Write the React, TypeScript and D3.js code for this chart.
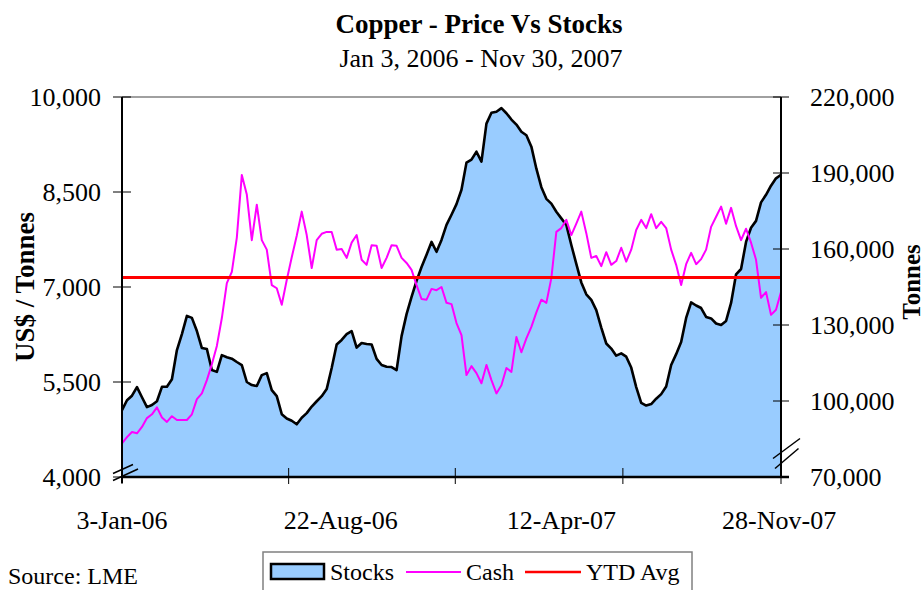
import React from "react";
import * as d3 from "d3";

const chartTitle = "Copper - Price Vs Stocks";
const chartSubtitle = "Jan 3, 2006 - Nov 30, 2007";
const startDate = "2006-01-03";
const endDate = "2007-11-30";

// Stocks (tonnes), sampled evenly from Jan 3 2006 to Nov 30 2007
const stocks = [
  96400, 100300, 102100, 105500, 101500, 97600, 98400, 99900, 105600, 105600,
  108600, 120100, 126400, 133600, 132800, 127600, 120900, 120500, 112200, 111500,
  118100, 117300, 116700, 115400, 114200, 107500, 106300, 105900, 110200, 111000,
  104300, 101900, 94800, 93100, 92200, 90800, 93400, 95200, 97800, 99900,
  101900, 104700, 113000, 122300, 124100, 126400, 127600, 121100, 122900, 122500,
  122300, 116600, 114200, 113500, 113400, 112200, 125600, 134300, 141100, 147400,
  152900, 157700, 162800, 158900, 163600, 169500, 173500, 177700, 183400, 194100,
  195300, 198400, 194500, 209500, 213800, 214200, 215600, 213600, 211100, 209100,
  206300, 204900, 200400, 191700, 184400, 179800, 177900, 174700, 172100, 169500,
  161600, 154100, 146800, 142100, 139900, 135900, 129000, 122700, 120700, 117900,
  118800, 117500, 113200, 105500, 99300, 98200, 98800, 100900, 102700, 105700,
  114200, 118500, 123300, 132800, 138900, 137700, 136700, 133200, 132600, 130600,
  130000, 131600, 138700, 150000, 152100, 162800, 168400, 171100, 178400, 181400,
  185000, 187900, 189300,
];

// Cash price (US$ / tonne), same sampling
const cash = [
  4530, 4630, 4710, 4690, 4790, 4930, 4990, 5100, 4940, 4870,
  4960, 4900, 4900, 4900, 4990, 5230, 5320, 5530, 5780, 6070,
  6510, 7060, 7240, 7780, 8770, 8460, 7740, 8300, 7740, 7590,
  7030, 6980, 6720, 7110, 7470, 7810, 8190, 7820, 7300, 7740,
  7840, 7870, 7870, 7590, 7600, 7460, 7700, 7820, 7430, 7350,
  7660, 7650, 7300, 7460, 7660, 7650, 7460, 7380, 7270, 7030,
  6810, 6800, 6970, 6950, 7000, 6750, 6730, 6430, 6240, 5610,
  5750, 5640, 5480, 5770, 5530, 5320, 5450, 5720, 5660, 6210,
  5970, 6190, 6370, 6600, 6800, 6750, 7140, 7870, 7930, 8060,
  7820, 8000, 8190, 7850, 7460, 7490, 7330, 7550, 7350, 7410,
  7620, 7400, 7590, 7900, 8060, 7930, 8150, 7930, 8030, 7930,
  7590, 7350, 7030, 7360, 7540, 7360, 7440, 7590, 7950, 8110,
  8270, 8000, 8250, 7960, 7740, 7920, 7700, 7430, 6830, 6920,
  6560, 6640, 6920,
];

const ytdAvg = 7150;

const xLabelDates = ["2006-01-03", "2006-08-22", "2007-04-12", "2007-11-28"];
const xLabels = ["3-Jan-06", "22-Aug-06", "12-Apr-07", "28-Nov-07"];
const xTickDates = ["2006-01-03", "2006-06-28", "2006-12-21", "2007-06-16", "2007-11-30"];
const priceTicks = [4000, 5500, 7000, 8500, 10000];
const stockTicks = [70000, 100000, 130000, 160000, 190000, 220000];

const legendItems = ["Stocks", "Cash", "YTD Avg"];

const W = 924;
const H = 590;
const L = 122;
const R = 781;
const T = 97;
const B = 477;
const FONT = "'Liberation Serif', 'Times New Roman', Times, serif";

export default function App() {
  const parse = d3.utcParse("%Y-%m-%d");
  const d0 = parse(startDate)!;
  const d1 = parse(endDate)!;
  const n = stocks.length;
  const dates = d3.range(n).map(
    (i) => new Date(d0.getTime() + ((d1.getTime() - d0.getTime()) * i) / (n - 1))
  );

  const x = d3.scaleUtc().domain([d0, d1]).range([L, R]);
  const yP = d3.scaleLinear().domain([4000, 10000]).range([B, T]);
  const yS = d3.scaleLinear().domain([70000, 220000]).range([B, T]);

  const area = d3
    .area<number>()
    .x((_, i) => x(dates[i]))
    .y0(yS(70000))
    .y1((d) => yS(d));
  const stockLine = d3
    .line<number>()
    .x((_, i) => x(dates[i]))
    .y((d) => yS(d));
  const cashLine = d3
    .line<number>()
    .x((_, i) => x(dates[i]))
    .y((d) => yP(d));

  const fmt = d3.format(",");

  return (
    <svg
      width={W}
      height={H}
      style={{ position: "absolute", left: 0, top: 0, background: "#fff" }}
      fontFamily={FONT}
    >
      <rect x={0} y={0} width={W} height={H} fill="#fff" />
      <text x={479} y={33} textAnchor="middle" fontSize={27} fontWeight="bold">
        {chartTitle}
      </text>
      <text x={481} y={67} textAnchor="middle" fontSize={26}>
        {chartSubtitle}
      </text>

      {/* plot */}
      <path d={area(stocks)!} fill="#99CCFF" />
      <line x1={L} x2={R} y1={T} y2={T} stroke="#a0a0a0" strokeWidth={2} />
      <path d={stockLine(stocks)!} fill="none" stroke="#000" strokeWidth={2.6} strokeLinejoin="round" />
      <path d={cashLine(cash)!} fill="none" stroke="#FF00FF" strokeWidth={2} strokeLinejoin="round" />
      <line x1={L} x2={R} y1={yP(ytdAvg)} y2={yP(ytdAvg)} stroke="#FF0000" strokeWidth={3} />

      {/* axes */}
      <line x1={L} x2={L} y1={T} y2={B + 6} stroke="#000" strokeWidth={2} />
      <line x1={R} x2={R} y1={T} y2={B} stroke="#000" strokeWidth={2} />
      <line x1={L} x2={R + 8} y1={B} y2={B} stroke="#000" strokeWidth={2.5} />

      {priceTicks.map((t) => (
        <g key={"p" + t}>
          <line x1={L - 9} x2={L + 9} y1={yP(t)} y2={yP(t)} stroke="#000" strokeWidth={1} />
          <text x={101} y={yP(t) + 9} textAnchor="end" fontSize={26}>
            {fmt(t)}
          </text>
        </g>
      ))}
      {stockTicks.map((t) => (
        <g key={"s" + t}>
          <line x1={R - 8} x2={R + 8} y1={yS(t)} y2={yS(t)} stroke="#000" strokeWidth={1} />
          <text x={810} y={yS(t) + 9} textAnchor="start" fontSize={26}>
            {fmt(t)}
          </text>
        </g>
      ))}
      {xTickDates.map((d) => (
        <line
          key={"t" + d}
          x1={x(parse(d)!)}
          x2={x(parse(d)!)}
          y1={B - 9}
          y2={B + 7}
          stroke="#000"
          strokeWidth={1}
        />
      ))}
      {xLabelDates.map((d, i) => (
        <text key={"l" + d} x={x(parse(d)!)} y={529} textAnchor="middle" fontSize={26}>
          {xLabels[i]}
        </text>
      ))}

      {/* axis break marks */}
      <g stroke="#000" strokeWidth={1.5}>
        <line x1={113} y1={473.5} x2={133} y2={464.5} />
        <line x1={113} y1={480.5} x2={138} y2={469} />
        <line x1={773} y1={458.5} x2={800} y2={438.5} />
        <line x1={775} y1={468.5} x2={798.5} y2={448.5} />
      </g>

      {/* axis titles */}
      <text
        transform={`translate(34, ${(T + B) / 2}) rotate(-90)`}
        textAnchor="middle"
        fontSize={27}
        fontWeight="bold"
      >
        US$ / Tonnes
      </text>
      <text
        transform={`translate(920, 282) rotate(-90)`}
        textAnchor="middle"
        fontSize={25}
        fontWeight="bold"
      >
        Tonnes
      </text>

      {/* legend */}
      <rect x={263} y={552} width={429} height={60} fill="#fff" stroke="#808080" strokeWidth={1.5} />
      <rect x={271} y={564} width={53} height={15} fill="#99CCFF" stroke="#000" strokeWidth={2.5} />
      <text x={330} y={580} fontSize={24}>{legendItems[0]}</text>
      <line x1={406} x2={461} y1={572} y2={572} stroke="#FF00FF" strokeWidth={2} />
      <text x={466} y={580} fontSize={24}>{legendItems[1]}</text>
      <line x1={525} x2={581} y1={572} y2={572} stroke="#FF0000" strokeWidth={2.5} />
      <text x={586} y={580} fontSize={24}>{legendItems[2]}</text>

      <text x={8} y={584} fontSize={24}>Source: LME</text>
    </svg>
  );
}
